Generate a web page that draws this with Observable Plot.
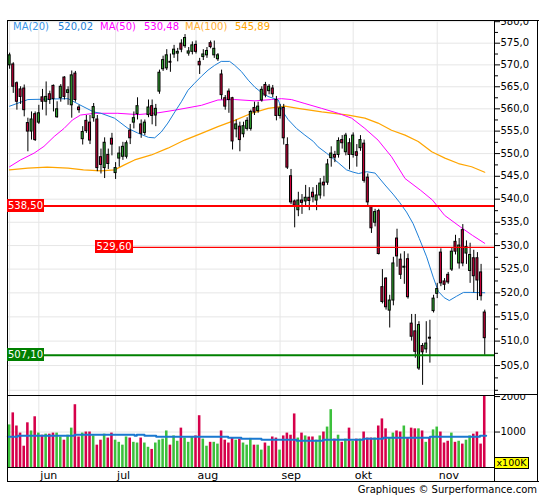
<!DOCTYPE html>
<html><head><meta charset="utf-8">
<script src="https://cdn.jsdelivr.net/npm/d3@7"></script>
<script src="https://cdn.jsdelivr.net/npm/@observablehq/plot@0.6"></script>
<style>
body{margin:0;background:#fff;font-family:"DejaVu Sans",Verdana,sans-serif;}
#wrap{position:relative;width:545px;height:500px;overflow:hidden;background:#fff;}
#wrap svg{position:absolute;left:0;overflow:hidden;}
.ln{position:absolute;background:#000;}
.tag{position:absolute;color:#fff;font-size:10px;line-height:13px;height:13px;text-align:center;}
.leg{position:absolute;top:21px;font-size:10px;line-height:12px;white-space:nowrap;}
</style></head><body><div id="wrap"></div>
<script>
// ---- data ----
const open  = [569.9,570.1,565.8,564.4,564.6,556.8,554.9,558.8,556.9,562.6,561.6,563.3,565.2,558.1,562.4,567.1,563.6,560.8,568.0,560.3,
553.2,557.3,556.9,557.9,557.6,549.2,546.8,549.7,553.3,545.7,548.9,549.3,549.3,555.1,556.9,558.8,556.5,554.6,558.6,560.6,
558.5,563.9,569.0,569.2,570.7,572.4,572.6,574.9,574.3,572.6,573.0,574.6,570.7,571.8,572.2,575.0,572.2,571.3,567.8,562.4,
563.9,562.4,555.4,556.0,554.3,555.5,555.5,560.2,559.5,561.9,565.4,564.0,564.6,562.0,558.4,560.2,551.9,545.0,539.5,537.6,
539.7,539.5,540.3,541.4,539.7,540.8,543.6,543.6,549.0,549.7,549.7,553.0,550.3,552.3,549.7,550.3,551.2,552.2,544.7,538.3,
534.9,537.4,521.2,523.0,516.3,518.4,531.5,527.0,525.3,527.1,513.6,512.0,504.4,509.0,508.3,510.7,516.2,519.8,528.5,522.4,
523.8,524.9,530.8,526.2,533.3,528.3,524.6,527.3,527.3,524.3,515.9];
const high  = [572.7,570.5,566.1,565.0,565.4,557.9,559.3,559.3,560.8,564.4,566.1,564.0,565.4,561.6,565.5,567.3,565.0,568.6,568.5,560.8,
556.0,558.5,558.5,561.2,558.5,551.0,553.5,551.0,554.5,548.0,551.5,552.5,552.8,556.5,559.3,562.5,557.5,557.5,562.0,562.0,
561.0,568.8,572.0,573.5,572.5,574.5,573.8,575.8,577.0,574.0,575.3,575.5,571.5,573.5,574.0,575.5,575.5,572.6,568.8,563.0,
564.5,562.6,557.5,557.0,557.0,558.0,559.7,561.5,561.5,565.0,566.0,565.5,565.3,562.8,561.0,561.0,553.5,546.5,539.8,541.5,
541.0,543.0,542.5,542.5,543.0,544.5,545.0,548.7,551.5,550.5,553.5,554.0,554.5,553.3,554.6,552.0,554.0,553.0,545.5,538.6,
537.8,537.8,524.9,523.2,519.5,527.5,533.5,528.2,528.7,528.2,515.5,515.5,514.0,509.5,514.0,514.3,519.5,522.0,529.3,523.0,
524.3,529.5,532.2,531.5,534.5,531.0,530.5,529.0,528.5,526.0,516.4];
const low   = [569.0,563.5,559.7,561.0,558.2,550.4,553.0,552.7,556.5,559.7,558.4,561.0,559.3,557.9,561.5,562.0,560.8,557.9,561.5,559.0,
551.9,554.5,552.0,557.0,546.0,545.5,544.5,546.5,549.5,544.3,547.0,548.5,548.8,552.0,555.5,557.5,553.4,554.0,558.0,556.4,
556.0,563.3,568.5,568.7,568.3,571.5,570.7,572.8,573.8,572.0,572.3,572.5,567.8,571.0,571.5,573.7,571.5,570.8,562.0,559.7,
559.0,550.8,553.5,550.4,553.5,555.0,555.0,558.5,559.0,561.5,562.5,563.2,562.5,557.3,557.7,551.9,546.5,538.8,533.8,536.2,
536.7,538.6,537.5,539.2,537.5,540.0,540.5,543.0,547.0,548.0,549.0,551.0,549.5,546.4,549.0,547.0,550.5,543.5,538.5,532.6,
534.0,528.0,517.7,516.4,512.7,517.3,525.4,522.8,521.8,518.7,510.0,506.5,504.0,501.0,507.5,505.5,515.8,518.8,521.3,520.5,
521.8,524.5,528.0,525.0,525.5,526.0,522.0,520.0,518.4,518.3,507.1];
const close = [572.2,565.0,561.6,562.7,559.7,554.9,557.6,553.0,559.0,561.6,562.7,562.0,562.2,559.9,565.0,562.7,564.2,567.6,562.0,559.7,
554.8,555.0,552.9,560.4,546.8,547.5,552.4,547.7,552.0,546.8,550.0,551.5,552.3,553.4,557.9,560.6,554.4,556.9,560.3,558.4,
560.0,568.2,571.1,572.2,570.5,573.5,573.0,573.5,576.2,573.1,574.5,573.0,569.9,572.4,573.2,574.1,573.7,572.2,563.1,560.5,
562.0,552.7,556.5,553.0,556.1,557.3,559.3,559.2,560.5,564.3,563.0,565.0,563.3,558.4,560.1,553.4,546.9,539.3,538.6,539.7,
539.2,540.3,539.6,540.4,540.8,543.4,543.0,547.6,550.0,549.1,552.8,552.3,554.0,549.7,554.0,549.5,553.0,544.0,539.3,533.7,
537.2,528.2,518.1,517.0,518.4,526.2,527.7,523.8,525.5,519.1,510.9,507.8,513.3,507.7,509.5,510.5,518.8,520.8,522.0,521.7,
522.2,528.7,528.7,530.0,526.2,529.7,528.0,523.5,522.6,519.3,510.6];
const volume = [1200,1540,1170,970,600,1260,1030,1430,970,910,940,940,970,970,860,770,910,1110,1770,860,
970,1000,1000,890,630,770,940,830,970,770,710,630,860,830,710,690,830,690,570,510,
690,770,800,1030,630,890,740,1110,830,710,860,890,1460,800,600,710,710,660,1030,770,
690,830,770,800,690,630,820,630,630,490,690,600,860,830,490,890,970,910,1510,830,
970,890,860,860,770,890,1000,1140,1630,800,910,710,800,1110,740,800,800,1000,830,830,
830,1170,1370,1090,830,970,1030,1000,1170,830,1110,1090,1090,1030,710,830,1060,1140,1000,690,
740,970,710,740,660,770,890,940,1000,660,2100];
// moving averages: [candle index, value]
const ma20 = [[1,560.6],[6,562.1],[17,562.3],[19.5,561.2],[24,559.3],[26,559.0],[29.7,557.9],[33.4,555.6],[36,554.6],[39,553.6],
[40.7,553.5],[42.5,554.8],[44.3,556.8],[46.2,559.3],[48,561.6],[49.8,564.2],[51.6,565.8],[53.5,567.4],[55.3,568.8],[57.1,569.9],
[58.9,570.8],[61.2,570.8],[62.6,569.9],[64.4,568.5],[66.3,566.5],[68.1,564.9],[69.9,563.7],[71.7,562.8],[74.5,562.0],[75.8,559.3],
[77.2,557.6],[79.5,555.6],[81.8,554.1],[84.1,552.7],[85.4,551.5],[87.7,550.1],[90.9,548.0],[93.2,546.4],[95,545.9],[96.5,545.6],
[98.7,546.0],[101,545.7],[103.7,543.1],[105.9,541.1],[107.7,539.3],[109.6,537.2],[111.4,534.7],[113.1,531.5],[115.1,527.6],[116.9,523.3],
[118.3,520.3],[119.9,519.0],[121.3,518.4],[123.3,519.3],[125.2,520.1],[127,520.1],[131,520.02]];
const ma50 = [[1,547.1],[4,548.6],[7.7,550.1],[10.4,551.6],[13.2,553.8],[15.9,555.6],[18.2,557.5],[20.4,558.6],[24.2,559.0],[30.6,559.0],
[36.1,558.7],[41.6,559.1],[46.2,559.7],[53.5,560.8],[58,562.0],[62.6,562.1],[68.1,561.8],[72.6,562.1],[75.4,562.3],[78.1,562.1],
[81.8,561.2],[86.4,560.1],[90.9,559.0],[94.6,557.9],[98.2,555.6],[101.8,553.0],[105.5,549.3],[109.2,544.5],[113.5,541.9],[116.7,539.8],
[120,536.5],[124.5,533.9],[127.6,532.2],[131,530.48]];
const ma100 = [[1,546.4],[6,546.8],[11.3,547.0],[17,546.8],[21.2,546.4],[26,546.2],[29.7,546.4],[32.4,547.5],[35.2,548.6],[39.8,549.7],
[44.3,551.2],[48.9,553.0],[53.5,554.5],[58,556.0],[62.6,557.4],[67.2,559.0],[71.7,560.1],[76.3,560.6],[79.9,560.1],[86.4,559.3],
[93.7,558.6],[98.2,557.9],[101.8,556.8],[105.5,555.2],[109.2,554.1],[112.8,552.7],[116.5,550.4],[120.1,549.0],[123.8,547.8],[127.4,547.1],[131,545.89]];
const volMA = [[0.5,869],[3.2,897],[18.8,925],[35.2,897],[35.8,925],[37.9,897],[41.1,869],[60.8,841],[64.4,813],[69.9,785],
[79.5,757],[86.8,785],[97.8,813],[103.2,841],[116,869],[129.7,897],[131.4,897]];
const maLabels = ["MA(20)","MA(50)","MA(100)"];
const maLast = [520.02, 530.48, 545.89];
const levels = [538.50, 529.60, 507.10];
const monthIdx = [9,30,52,75,95,118];
const monthNames = ["jun","jul","aug","sep","okt","nov"];
const priceTicks = d3.range(505, 581, 5);
const priceGrid = d3.range(500, 581, 5);
const priceMinor = d3.range(502.5, 580, 5);
const volTicks = [1000, 2000];

// ---- styles ----
const GREEN = "#33b033", RED = "#d2003c", VGREEN = "#3cc03c", VRED = "#d6004a";
const C20 = "#1e7fd8", C50 = "#ff00ff", C100 = "#ffa500";
const fmt = (v, n) => v.toFixed(n).replace(".", ",");
const xd = [0.425, 133.67];
const pxToIdx = px => xd[0] + (px - 7) / (494 - 7) * (xd[1] - xd[0]);

const candles = close.map((c, k) => ({i: k + 1, o: open[k], h: high[k], l: low[k], c, v: volume[k], up: c >= open[k]}));
const font = {fontFamily: '"DejaVu Sans", Verdana, sans-serif', fontSize: "10px", background: "transparent"};

const main = Plot.plot({
  width: 545, height: 375, marginTop: 0, marginBottom: 0, marginLeft: 7, marginRight: 51,
  x: {domain: xd, axis: null},
  y: {type: "log", domain: [498.95, 580.28], axis: null},
  style: font,
  marks: [
    Plot.ruleY(priceGrid, {stroke: "#e6e6e6"}),
    Plot.ruleX([1, ...monthIdx], {stroke: "#e6e6e6"}),
    Plot.line(ma100, {x: d => d[0], y: d => d[1], stroke: C100, strokeWidth: 1.2}),
    Plot.line(ma50, {x: d => d[0], y: d => d[1], stroke: C50, strokeWidth: 1}),
    Plot.line(ma20, {x: d => d[0], y: d => d[1], stroke: C20, strokeWidth: 1}),
    Plot.ruleX(candles, {x: "i", y1: "l", y2: "h", stroke: "#000", strokeWidth: 1}),
    Plot.rect(candles, {x1: d => d.i - 0.28, x2: d => d.i + 0.28, y1: "o", y2: "c", fill: d => d.up ? GREEN : RED, stroke: "#000", strokeWidth: 1}),
    Plot.ruleY([levels[0]], {stroke: "#ff0000", strokeWidth: 2}),
    Plot.ruleY([levels[1]], {x1: pxToIdx(133), x2: xd[1], stroke: "#ff0000", strokeWidth: 1.2}),
    Plot.ruleY([levels[2]], {stroke: "#008000", strokeWidth: 2}),
    Plot.axisY({anchor: "right", ticks: priceTicks, tickFormat: d => fmt(d, 1), tickSize: 5, tickPadding: 1, fontSize: 10}),
    Plot.axisY({anchor: "right", ticks: [500, ...priceMinor], tickFormat: () => "", tickSize: 3}),
    Plot.frame({stroke: "#000"})
  ]
});
main.style.top = "20px";

const vol = Plot.plot({
  width: 545, height: 87, marginTop: 0, marginBottom: 15, marginLeft: 7, marginRight: 51,
  x: {domain: xd, axis: null},
  y: {domain: [0, 2030], axis: null},
  style: font,
  marks: [
    Plot.ruleY([1000], {stroke: "#e6e6e6"}),
    Plot.ruleX([1, ...monthIdx], {stroke: "#e6e6e6"}),
    Plot.rect(candles, {x1: d => d.i - 0.35, x2: d => d.i + 0.35, y1: d => 0, y2: d => Math.min(d.v, 2030), fill: d => d.up ? VGREEN : VRED}),
    Plot.line(volMA, {x: d => d[0], y: d => d[1], curve: "step-after", stroke: "#1a78d0", strokeWidth: 2}),
    Plot.axisY({anchor: "right", ticks: volTicks, tickFormat: d => String(d), tickSize: 5, tickPadding: 1, fontSize: 10}),
    Plot.axisX({ticks: monthIdx, tickFormat: d => monthNames[monthIdx.indexOf(d)], tickSize: 0, tickPadding: 4, textAnchor: "start", dx: 1.5, fontSize: 11}),
    Plot.frame({stroke: "#000"})
  ]
});
vol.style.top = "395px";

const wrap = document.getElementById("wrap");
wrap.appendChild(main);
wrap.appendChild(vol);

function line(l, t, w, h) { const d = document.createElement("div"); d.className = "ln"; Object.assign(d.style, {left: l + "px", top: t + "px", width: w + "px", height: h + "px"}); wrap.appendChild(d); }
line(7, 20, 532, 1);   // top
line(7, 481, 532, 1);  // bottom
line(7, 20, 1, 462);   // left
line(537, 20, 1, 462); // right
line(494, 394, 44, 1); // separator
line(494, 466, 1, 16);

// level tags
const ys = main.scale("y");
const tagX = [[7, 37], [95, 38], [7, 37]];
const tagBg = ["#ff0000", "#ff0000", "#008000"];
levels.forEach((v, k) => {
  const d = document.createElement("div"); d.className = "tag";
  d.textContent = fmt(v, 2);
  Object.assign(d.style, {left: tagX[k][0] + "px", width: tagX[k][1] + "px", top: (20 + ys.apply(v) - 6.5) + "px", background: tagBg[k]});
  wrap.appendChild(d);
});

// legend
const legX = [[13, 58], [100, 144], [185, 235]];
const legC = [["#3a96e8", C20], [C50, C50], ["#ffae33", C100]];
maLabels.forEach((t, k) => {
  [[t, 0], [fmt(maLast[k], 2), 1]].forEach(([s, j]) => {
    const d = document.createElement("div"); d.className = "leg"; d.textContent = s;
    Object.assign(d.style, {left: legX[k][j] + "px", color: legC[k][j]});
    wrap.appendChild(d);
  });
});

// unit box
const u = document.createElement("div");
u.textContent = "x100K";
Object.assign(u.style, {position: "absolute", left: "494px", top: "457px", width: "33px", height: "10px", background: "#ffff00", border: "1px solid #000", fontSize: "9.5px", lineHeight: "10px", textAlign: "center", color: "#000"});
wrap.appendChild(u);

// credit
const cr = document.createElement("div");
cr.textContent = "Graphiques © Surperformance.com";
Object.assign(cr.style, {position: "absolute", right: "8px", top: "484px", fontSize: "10px", color: "#000", whiteSpace: "nowrap"});
wrap.appendChild(cr);
</script>
</body></html>
